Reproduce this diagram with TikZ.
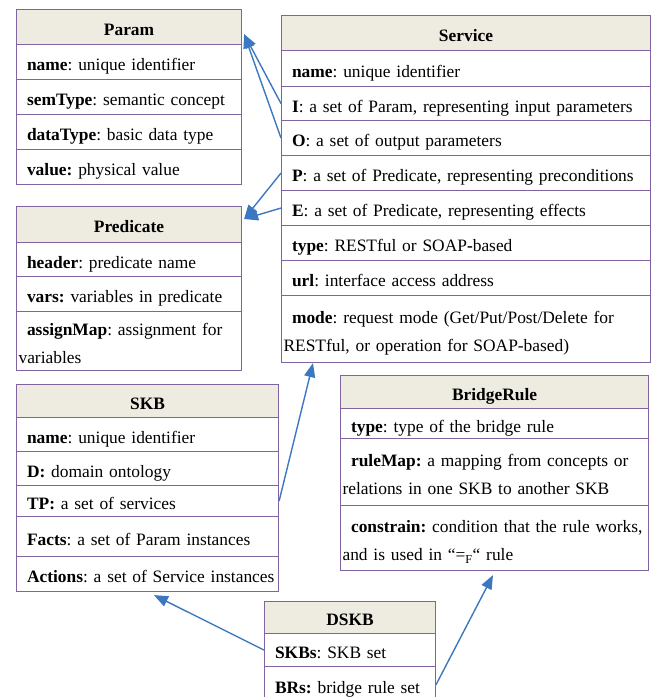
\documentclass[tikz,border=0pt]{standalone}
\usepackage{fontspec}
\setmainfont{Liberation Serif}
\usetikzlibrary{arrows.meta,calc}
\definecolor{boxline}{HTML}{8064A2}
\definecolor{hdrfill}{HTML}{EEECE1}
\definecolor{arrowblue}{HTML}{3C78C2}
\newcommand{\ind}{\hspace*{8.5pt}}
\frenchspacing
\hyphenpenalty=10000
\begin{document}
\begin{tikzpicture}[x=1pt,y=-1pt,
  cell/.style={draw=boxline, line width=1.1pt, anchor=north west, inner xsep=2pt, inner ysep=0pt,
    align=left, font=\fontsize{17.4}{28}\selectfont, minimum height=#1, text height=17pt, text depth=0pt},
  two/.style={text depth=28pt},
  hdr/.style={cell=#1, fill=hdrfill, align=center, font=\fontsize{17.4}{28}\selectfont\bfseries, text height=16pt},
  conn/.style={draw=arrowblue, line width=1.4pt, -{Triangle[length=14pt,width=11pt]}}
]
\useasboundingbox (0,0) rectangle (654,697);
\clip (0,0) rectangle (654,697);

% Param
\node[hdr=35, text width=221pt] (ph) at (16,9) {Param};
\node[cell=35, text width=221pt] (p1) at (16,44) {\mbox{\ind\textbf{name}: unique identifier}};
\node[cell=35, text width=221pt] (p2) at (16,79) {\mbox{\ind\textbf{semType}: semantic concept}};
\node[cell=35, text width=221pt] (p3) at (16,114) {\mbox{\ind\textbf{dataType}: basic data type}};
\node[cell=35, text width=221pt] (p4) at (16,149) {\mbox{\ind\textbf{value:} physical value}};

% Service
\node[hdr=35, text width=365pt] (sh) at (281,15) {Service};
\node[cell=36, text width=365pt] (sN) at (281,50) {\mbox{\ind\textbf{name}: unique identifier}};
\node[cell=34, text width=365pt] (sI) at (281,86) {\mbox{\ind\textbf{I}: a set of Param, representing input parameters}};
\node[cell=35, text width=365pt] (sO) at (281,120) {\mbox{\ind\textbf{O}: a set of output parameters}};
\node[cell=35, text width=365pt] (sP) at (281,155) {\mbox{\ind\textbf{P}: a set of Predicate, representing preconditions}};
\node[cell=35, text width=365pt] (sE) at (281,190) {\mbox{\ind\textbf{E}: a set of Predicate, representing effects}};
\node[cell=35, text width=365pt] (sT) at (281,225) {\mbox{\ind\textbf{type}: RESTful or SOAP\textbf{-}based}};
\node[cell=35, text width=365pt] (sU) at (281,260) {\mbox{\ind\textbf{url}: interface access address}};
\node[cell=67, two, text width=365pt] (sM) at (281,295) {\mbox{\ind\textbf{mode}: request mode (Get/Put/Post/Delete for}\\\mbox{RESTful, or operation for SOAP-based)}};

% Predicate
\node[hdr=36, text width=221pt] (prh) at (16,206) {Predicate};
\node[cell=34, text width=221pt] (pr1) at (16,242) {\mbox{\ind\textbf{header}: predicate name}};
\node[cell=35, text width=221pt] (pr2) at (16,276) {\mbox{\ind\textbf{vars:} variables in predicate}};
\node[cell=59, two, text width=221pt] (pr3) at (16,311) {\mbox{\ind\textbf{assignMap}: assignment for}\\\mbox{variables}};

% SKB
\node[hdr=33, text width=258pt] (kh) at (16,384) {SKB};
\node[cell=34, text width=258pt] (k1) at (16,417) {\mbox{\ind\textbf{name}: unique identifier}};
\node[cell=34, text width=258pt] (k2) at (16,451) {\mbox{\ind\textbf{D:} domain ontology}};
\node[cell=31, text width=258pt] (k3) at (16,485) {\mbox{\ind\textbf{TP:} a set of services}};
\node[cell=40, text width=258pt] (k4) at (16,516) {\mbox{\ind\textbf{Facts}: a set of Param instances}};
\node[cell=35, text width=258pt] (k5) at (16,556) {\mbox{\ind\textbf{Actions}: a set of Service instances}};

% BridgeRule
\node[hdr=33, text width=304pt] (bh) at (340,375) {BridgeRule};
\node[cell=30, text width=304pt] (b1) at (340,408) {\mbox{\ind\textbf{type}: type of the bridge rule}};
\node[cell=67, two, text width=304pt] (b2) at (340,438) {\mbox{\ind\textbf{ruleMap:} a mapping from concepts or}\\\mbox{relations in one SKB to another SKB}};
\node[cell=65, two, text width=304pt] (b3) at (340,505) {\mbox{\ind\textbf{constrain:} condition that the rule works,}\\\mbox{and is used in “=\textsubscript{F}“ rule}};

% DSKB
\node[hdr=32, text width=167pt] (dh) at (264,601) {DSKB};
\node[cell=33, text width=167pt] (d1) at (264,633) {\mbox{\ind\textbf{SKBs}: SKB set}};
\node[cell=36, text width=167pt] (d2) at (264,666) {\mbox{\ind\textbf{BRs:} bridge rule set}};

% connectors
\coordinate (paramTip) at ($(ph.south east)+(2,-11)$);
\coordinate (predTip) at ($(prh.north east)+(2,13)$);
\coordinate (servTip) at ($(sM.south west)+(32,0)$);
\coordinate (skbTip) at ($(k5.south west)+(138,3)$);
\coordinate (brTip) at ($(b3.south west)+(153,4)$);
\draw[conn] (sI.west) -- (paramTip);
\draw[conn] (sO.west) -- (paramTip);
\draw[conn] (sP.west) -- (predTip);
\draw[conn] (sE.west) -- (predTip);
\draw[conn] (k3.east) -- (servTip);
\draw[conn] (d1.west) -- (skbTip);
\draw[conn] (d2.east) -- (brTip);
\end{tikzpicture}
\end{document}
